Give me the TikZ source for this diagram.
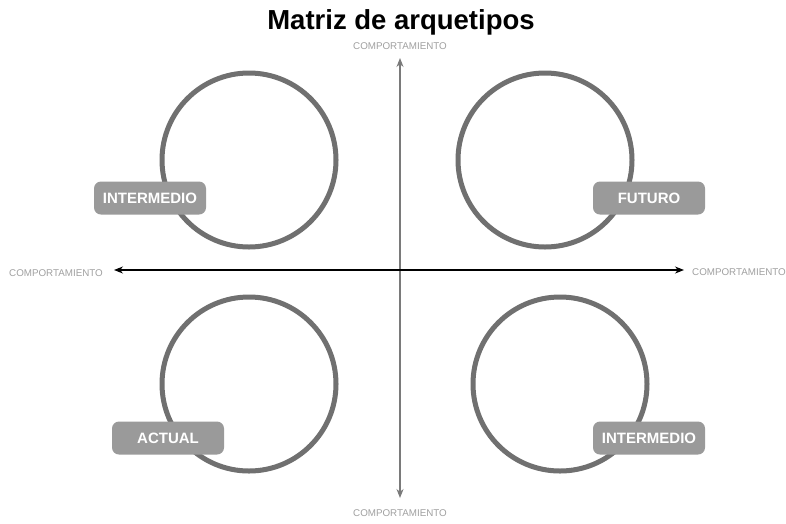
\documentclass[tikz,border=0pt]{standalone}
\usepackage{fontspec}
\setmainfont{Liberation Sans}
\usetikzlibrary{arrows.meta}
\definecolor{ringgray}{HTML}{707070}
\definecolor{tagfill}{HTML}{9A9A9A}
\definecolor{axisgray}{HTML}{7A7A7A}
\definecolor{labgray}{HTML}{A0A0A0}
\tikzset{
  ring/.style={draw=ringgray, line width=5pt, circle, minimum size=174pt, inner sep=0pt},
  tag/.style={fill=tagfill, rounded corners=7pt, minimum width=112pt, minimum height=33pt,
    text=white, font=\fontsize{15}{17}\selectfont\bfseries, inner sep=0pt},
  axlab/.style={text=labgray, font=\fontsize{9.8}{11}\selectfont, inner sep=0pt},
  axisline/.style={line width=1.1pt, -{Stealth[length=9pt,width=7pt]}}
}
\begin{document}
\begin{tikzpicture}[x=1pt,y=-1pt]
\useasboundingbox[fill=white] (0,0) rectangle (786,523);
\node[font=\fontsize{27.5}{30}\selectfont\bfseries] (title) at (401,22) {Matriz de arquetipos};
\coordinate (o) at (400,270);
\node[axlab] (top) at (400,46) {COMPORTAMIENTO};
\node[axlab] (bot) at (400,513) {COMPORTAMIENTO};
\node[axlab, anchor=west] (lft) at (9,273) {COMPORTAMIENTO};
\node[axlab, anchor=west] (rgt) at (692,272) {COMPORTAMIENTO};
\coordinate (topend) at (400,58);
\coordinate (botend) at (400,498);
\coordinate (lftend) at (114,270);
\coordinate (rgtend) at (684,270);
\draw[axisline, draw=axisgray, fill=axisgray] (o) -- (topend);
\draw[axisline, draw=axisgray, fill=axisgray] (o) -- (botend);
\draw[axisline] (o) -- (lftend);
\draw[axisline] (o) -- (rgtend);
\node[ring] (c1) at (249,160) {};
\node[ring] (c2) at (545,160) {};
\node[ring] (c3) at (249,384) {};
\node[ring] (c4) at (560,384) {};
\node[tag] (t1) at (150,198) {INTERMEDIO};
\node[tag] (t2) at (649,198) {FUTURO};
\node[tag] (t3) at (168,438) {ACTUAL};
\node[tag] (t4) at (649,438) {INTERMEDIO};
\end{tikzpicture}
\end{document}
